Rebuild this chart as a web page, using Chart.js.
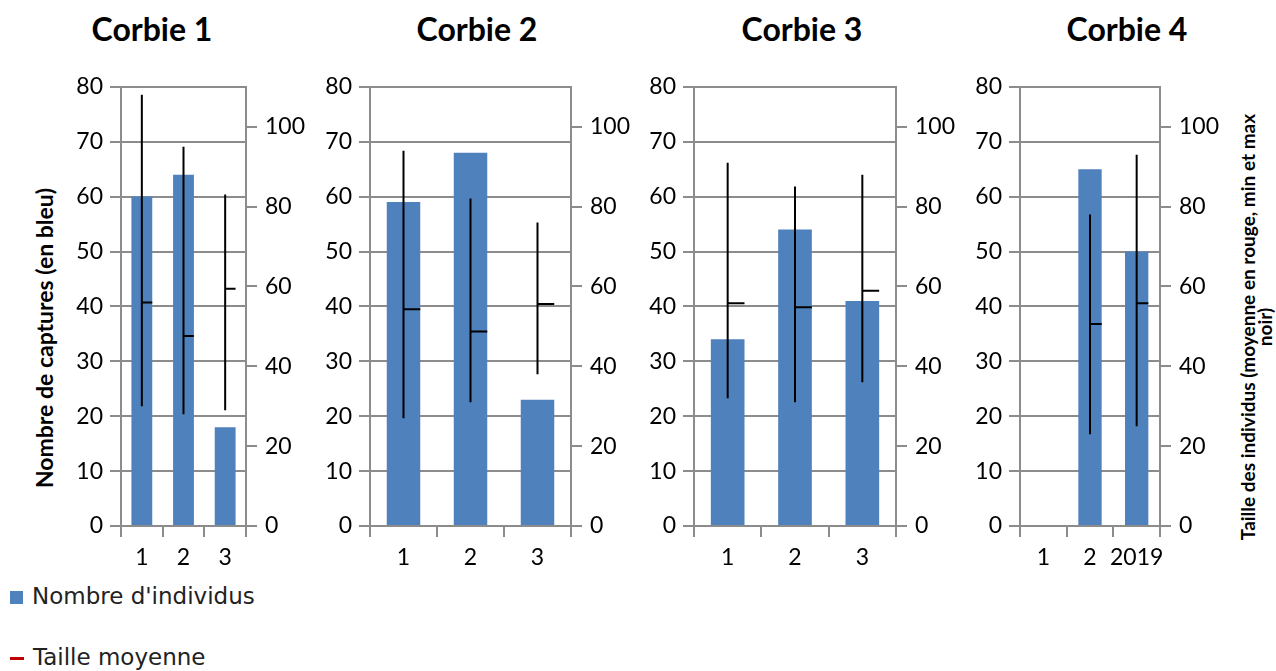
<!DOCTYPE html>
<html>
<head>
<meta charset="utf-8">
<script src="https://cdn.jsdelivr.net/npm/chart.js@4/dist/chart.umd.min.js"></script>
<style>
  body { margin: 0; background: #fff; width: 1276px; height: 671px; overflow: hidden; position: relative; font-family: Lato, sans-serif; }
  canvas { position: absolute; }
  .title { position: absolute; top: 13px; font: bold 32px/32px Lato, sans-serif; color: #000; transform: translateX(-50%); white-space: nowrap; }
  .axis-title { position: absolute; font-weight: bold; color: #000; white-space: nowrap; text-align: center; transform: translate(-50%, -50%) rotate(-90deg); }
  .legend { position: absolute; left: 10px; font: 23px/28px 'DejaVu Sans', sans-serif; color: #222; white-space: nowrap; }
  .swatch { display: inline-block; vertical-align: middle; margin-right: 9px; }
</style>
</head>
<body>
<canvas id="c1"></canvas>
<canvas id="c2"></canvas>
<canvas id="c3"></canvas>
<canvas id="c4"></canvas>

<script>
// Data
const panelTitles = ['Corbie 1', 'Corbie 2', 'Corbie 3', 'Corbie 4'];
const categories = ['1', '2', '3'];
const categoriesLast = ['1', '2', '2019'];

// Nombre d'individus (left axis)
const counts1 = [60, 64, 18];
const counts2 = [59, 68, 23];
const counts3 = [34, 54, 41];
const counts4 = [null, 65, 50];

// Taille des individus (right axis): max, min, moyenne
const max1 = [108, 95, 83];
const min1 = [30, 28, 29];
const mean1 = [56, 47.6, 59.4];

const max2 = [94, 82, 76];
const min2 = [27, 31, 38];
const mean2 = [54.3, 48.7, 55.6];

const max3 = [91, 85, 88];
const min3 = [32, 31, 36];
const mean3 = [55.8, 54.8, 58.9];

const max4 = [null, 78, 93];
const min4 = [null, 23, 25];
const mean4 = [null, 50.6, 55.8];

const leftTicks = { min: 0, max: 80, step: 10 };
const rightTicks = { min: 0, max: 110, step: 20, lastShown: 100 };

// Layout of each panel: plot area left/width in page pixels
const panels = [
    { id: 'c1', plotLeft: 121, plotWidth: 125, labels: categories, counts: counts1, max: max1, min: min1, mean: mean1 },
    { id: 'c2', plotLeft: 370, plotWidth: 201, labels: categories, counts: counts2, max: max2, min: min2, mean: mean2 },
    { id: 'c3', plotLeft: 694, plotWidth: 202, labels: categories, counts: counts3, max: max3, min: min3, mean: mean3 },
    { id: 'c4', plotLeft: 1020, plotWidth: 140, labels: categoriesLast, counts: counts4, max: max4, min: min4, mean: mean4 }
];
const titleCenters = [152, 477, 802, 1127];

const CANVAS_TOP = 65;
const CANVAS_HEIGHT = 510;
const LEFT_W = 55;
const RIGHT_W = 60;
const X_AXIS_H = 49;
const GRID = '#8c8c8c';
const BAR = '#4f81bd';
const TICK_FONT = { family: 'Lato', size: 23 };

Chart.defaults.animation = false;
Chart.defaults.color = '#000';

// High-low line with mean tick, drawn on the right scale
const sizeRange = {
    id: 'sizeRange',
    afterDatasetsDraw(chart, args, opts) {
        const { ctx, scales: { x, y1 } } = chart;
        const catW = x.getPixelForValue(1) - x.getPixelForValue(0);
        const half = catW * 0.25;
        ctx.save();
        ctx.strokeStyle = '#000';
        ctx.lineWidth = 2;
        opts.max.forEach((hi, i) => {
            if (hi == null) return;
            const cx = x.getPixelForValue(i);
            ctx.beginPath();
            ctx.moveTo(cx, y1.getPixelForValue(hi));
            ctx.lineTo(cx, y1.getPixelForValue(opts.min[i]));
            const my = y1.getPixelForValue(opts.mean[i]);
            ctx.moveTo(cx, my);
            ctx.lineTo(cx + half, my);
            ctx.stroke();
        });
        ctx.restore();
    }
};

function makePanel(p) {
    const canvas = document.getElementById(p.id);
    const w = LEFT_W + p.plotWidth + RIGHT_W;
    canvas.style.left = (p.plotLeft - LEFT_W) + 'px';
    canvas.style.top = CANVAS_TOP + 'px';
    canvas.style.width = w + 'px';
    canvas.style.height = CANVAS_HEIGHT + 'px';
    canvas.width = w;
    canvas.height = CANVAS_HEIGHT;

    return new Chart(canvas.getContext('2d'), {
        type: 'bar',
        data: {
            labels: p.labels,
            datasets: [{
                label: "Nombre d'individus",
                data: p.counts,
                backgroundColor: BAR,
                borderWidth: 0,
                barPercentage: 0.5,
                categoryPercentage: 1,
                yAxisID: 'y'
            }]
        },
        options: {
            responsive: false,
            maintainAspectRatio: false,
            layout: { padding: 0 },
            plugins: {
                legend: { display: false },
                tooltip: { enabled: false },
                sizeRange: { max: p.max, min: p.min, mean: p.mean }
            },
            scales: {
                x: {
                    afterFit: s => { s.height = X_AXIS_H; },
                    grid: { display: true, offset: true, drawOnChartArea: false, color: GRID, lineWidth: 2, tickLength: 11 },
                    border: { display: true, color: GRID, width: 2 },
                    ticks: { font: TICK_FONT, color: '#000', padding: 7, maxRotation: 0, minRotation: 0, autoSkip: false }
                },
                y: {
                    position: 'left',
                    min: leftTicks.min,
                    max: leftTicks.max,
                    afterFit: s => { s.width = LEFT_W; },
                    grid: { color: GRID, lineWidth: 2, tickLength: 11 },
                    border: { display: true, color: GRID, width: 2 },
                    ticks: { stepSize: leftTicks.step, font: TICK_FONT, color: '#000', padding: 7 }
                },
                y1: {
                    position: 'right',
                    min: rightTicks.min,
                    max: rightTicks.max,
                    afterFit: s => { s.width = RIGHT_W; },
                    afterBuildTicks: s => { s.ticks = s.ticks.filter(t => t.value <= rightTicks.lastShown); },
                    grid: { drawOnChartArea: false, color: GRID, lineWidth: 2, tickLength: 11 },
                    border: { display: true, color: GRID, width: 2 },
                    ticks: { stepSize: rightTicks.step, font: TICK_FONT, color: '#000', padding: 8 }
                }
            }
        },
        plugins: [sizeRange]
    });
}

panels.forEach(makePanel);

// Text around the charts
panelTitles.forEach((t, i) => {
    const d = document.createElement('div');
    d.className = 'title';
    d.style.left = titleCenters[i] + 'px';
    d.textContent = t;
    document.body.appendChild(d);
});

const leftTitle = document.createElement('div');
leftTitle.className = 'axis-title';
leftTitle.style.cssText = 'left:44px; top:338px; font-size:23px; line-height:23px;';
leftTitle.textContent = 'Nombre de captures (en bleu)';
document.body.appendChild(leftTitle);

const rightTitle = document.createElement('div');
rightTitle.className = 'axis-title';
rightTitle.style.cssText = 'left:1256px; top:327px; font-size:19px; line-height:17px;';
rightTitle.innerHTML = 'Taille des individus (moyenne en rouge, min et max<br>noir)';
document.body.appendChild(rightTitle);

const legend1 = document.createElement('div');
legend1.className = 'legend';
legend1.style.top = '582px';
legend1.innerHTML = '<span class="swatch" style="width:13px;height:13px;background:' + BAR + '"></span>Nombre d\'individus';
document.body.appendChild(legend1);

const legend2 = document.createElement('div');
legend2.className = 'legend';
legend2.style.top = '643px';
legend2.innerHTML = '<span class="swatch" style="width:14px;height:3px;background:#c00000"></span>Taille moyenne';
document.body.appendChild(legend2);
</script>
</body>
</html>
